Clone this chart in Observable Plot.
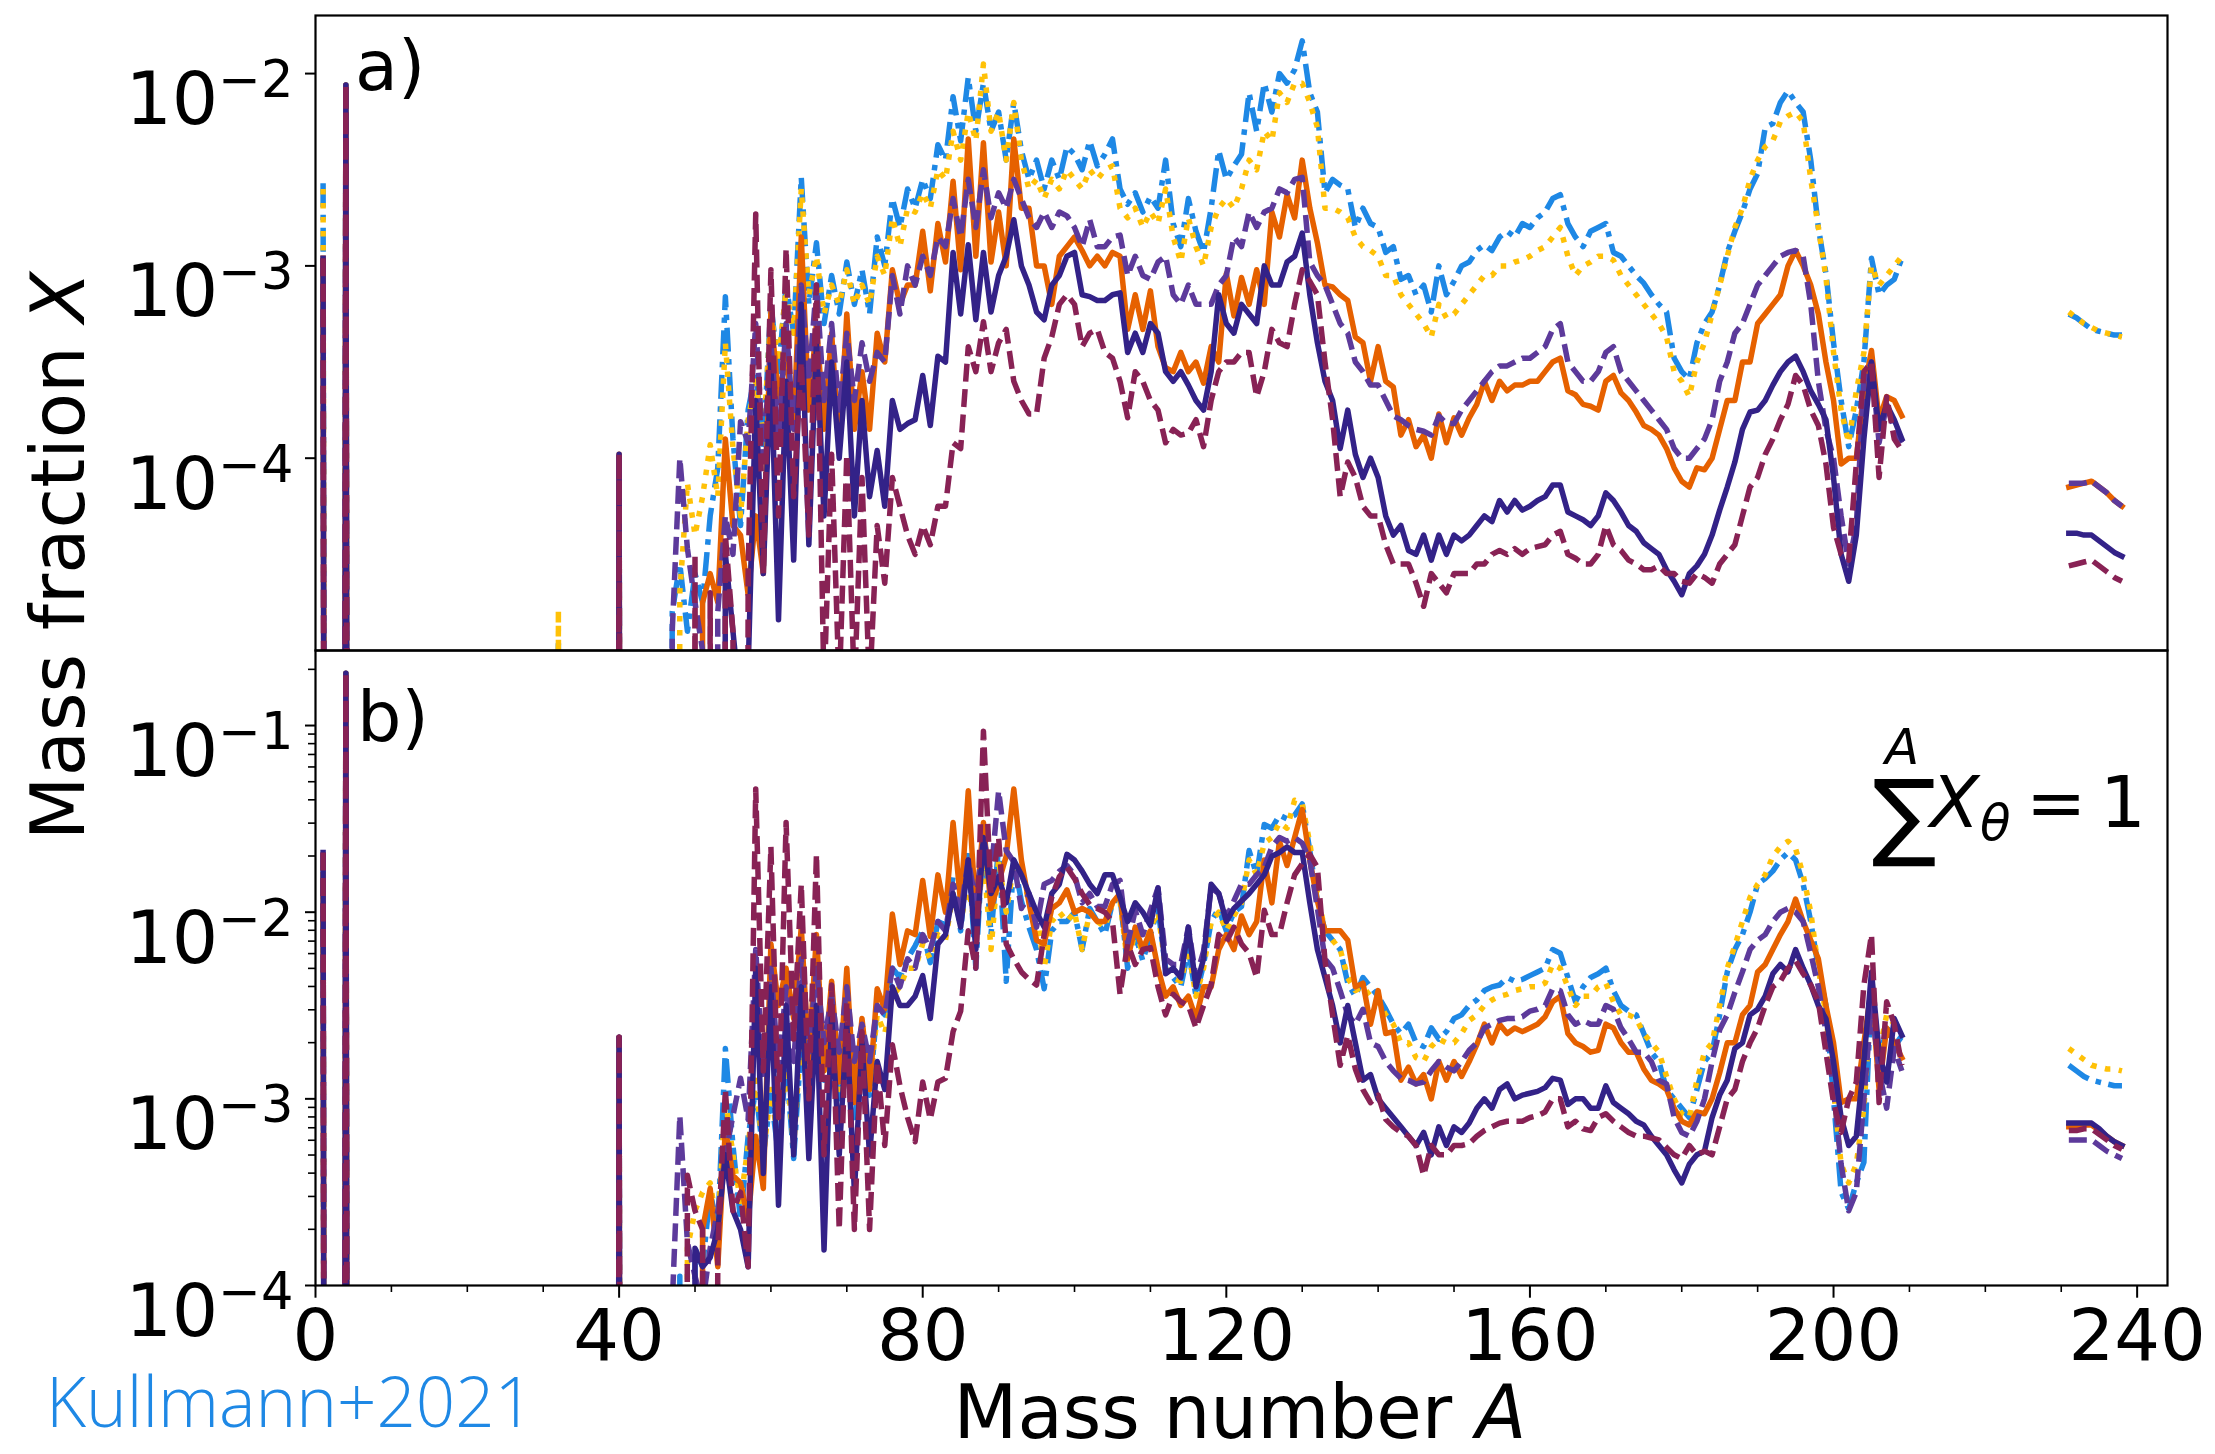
<!DOCTYPE html>
<html>
<head>
<meta charset="utf-8">
<script src="https://cdn.jsdelivr.net/npm/d3@7"></script>
<script src="https://cdn.jsdelivr.net/npm/@observablehq/plot@0.6"></script>
<style>
  html, body { margin: 0; padding: 0; background: #fff; }
  #root { position: relative; width: 2215px; height: 1454px; overflow: hidden; background: #fff; font-family: "DejaVu Sans", sans-serif; }
  #root > svg { position: absolute; left: 0; max-width: none; }
</style>
</head>
<body>
<div id="root"></div>
<script>
// ---------------- DATA (log10 of mass fraction X; null = zero abundance) ----------------
const n = null;
const massEarly = [1, 2, 3, 4, 5, 31, 32, 33, 39, 40, 41, 43];
const mainStart = 44;              // main arrays cover A = 44 ... 209
const massTail = [231, 232, 233, 234, 235, 236, 237, 238];

// ----- panel a) -----
const a_blue_early   = [-2.57, n, n, -2.06, n, n, -4.95, n, n, -3.98, n, n];
const a_gold_early   = [-2.60, n, n, -2.06, n, n, -4.79, n, n, -3.98, n, n];
const a_orange_early = [-2.96, n, n, -2.06, n, n, n, n, n, -3.98, n, n];
const a_purple_early = [-2.96, n, n, -2.06, n, n, n, n, n, -3.98, n, n];
const a_indigo_early = [-2.96, n, n, -2.06, n, n, n, n, n, -3.98, n, n];
const a_maroon_early = [-2.96, n, n, -2.06, n, n, n, n, n, -3.98, n, n];

const a_blue = [
  n, n, n, -4.8, -4.55, -4.9, -4.6, -4.75, -4.3, -4.05,
  -3.16, -3.9, -4.35, -3.75, -3.55, -3.95, -3.2, -3.55, -3.1, -3.35,
  -2.54, -3.2, -2.88, -3.3, -3.05, -3.25, -2.98, -3.2, -3.02, -3.25,
  -2.85, -3.0, -2.65, -2.8, -2.6, -2.7, -2.55, -2.65, -2.37, -2.45,
  -2.12, -2.35, -2.02, -2.3, -2.05, -2.3, -2.2, -2.45, -2.15, -2.4,
  -2.55, -2.45, -2.6, -2.45, -2.55, -2.38, -2.42, -2.5, -2.35, -2.48,
  -2.42, -2.34, -2.6, -2.68, -2.62, -2.72, -2.64, -2.7, -2.45, -2.78,
  -2.9, -2.65, -2.82, -2.93, -2.7, -2.4, -2.55, -2.48, -2.42, -2.1,
  -2.3, -2.05, -2.2, -2.0, -2.05, -1.98, -1.83, -2.1, -2.2, -2.62,
  -2.55, -2.58, -2.6, -2.8, -2.7, -2.78, -2.8, -2.93, -2.9, -3.07,
  -3.05, -3.15, -3.1, -3.24, -3.0, -3.15, -3.08, -3.0, -2.98, -2.92,
  -2.89, -2.92, -2.85, -2.82, -2.85, -2.78, -2.8, -2.75, -2.72, -2.65,
  -2.63, -2.78, -2.85, -2.9, -2.82, -2.8, -2.78, -2.93, -2.95, -3.0,
  -3.05, -3.09, -3.15, -3.2, -3.24, -3.48, -3.55, -3.59, -3.4, -3.3,
  -3.24, -3.1, -2.93, -2.82, -2.72, -2.6, -2.52, -2.28, -2.26, -2.15,
  -2.09, -2.15, -2.2, -2.45, -2.8, -3.04, -3.4, -3.7, -3.94, -3.75,
  -3.5, -2.96, -3.15, -3.1, -3.07, -2.96
];
const a_gold = [
  n, n, n, n, -4.7, -4.13, -4.4, -4.2, -3.93, -4.2,
  -3.4, -3.95, -4.3, -3.8, -3.6, -3.9, -3.25, -3.5, -3.12, -3.35,
  -2.6, -3.15, -2.95, -3.25, -3.1, -3.2, -3.02, -3.2, -3.1, -3.2,
  -2.95, -3.05, -2.75, -2.9, -2.7, -2.72, -2.62, -2.7, -2.5, -2.55,
  -2.3, -2.45, -2.2, -2.35, -1.95, -2.3, -2.2, -2.45, -2.15, -2.45,
  -2.6, -2.55, -2.65, -2.55, -2.6, -2.5, -2.55, -2.6, -2.5, -2.55,
  -2.5, -2.48, -2.7, -2.75, -2.7, -2.8, -2.72, -2.78, -2.6, -2.85,
  -2.98, -2.75, -2.9, -3.0, -2.8, -2.7, -2.65, -2.7, -2.6, -2.45,
  -2.5, -2.3, -2.35, -2.1, -2.15, -2.05, -2.05, -2.15, -2.28, -2.7,
  -2.7, -2.72, -2.75, -2.85, -2.9, -2.92, -2.95, -3.05, -3.05, -3.15,
  -3.2, -3.25, -3.3, -3.37, -3.2, -3.27, -3.25, -3.2, -3.15, -3.1,
  -3.05, -3.05, -3.0, -3.0, -2.98, -2.97, -2.95, -2.92, -2.9, -2.85,
  -2.8, -2.95, -3.05, -3.0, -2.98, -2.95, -2.95, -2.97, -3.05, -3.1,
  -3.15, -3.2, -3.25, -3.3, -3.37, -3.55, -3.6, -3.68, -3.5, -3.4,
  -3.25, -3.1, -2.95, -2.8, -2.7, -2.55, -2.45, -2.38, -2.35, -2.25,
  -2.22, -2.2, -2.25, -2.55, -2.8, -3.06, -3.45, -3.75, -3.92, -3.65,
  -3.45, -3.0, -3.1, -3.05, -3.0, -2.95
];
const a_orange = [
  n, n, n, n, n, n, n, -4.75, -4.6, -4.75,
  -3.9, -4.35, -4.4, -4.71, -4.3, -4.6, -3.24, -3.7, -3.45, -3.85,
  -2.85, -3.75, -3.3, -3.85, -3.35, -3.95, -3.25, -3.85, -3.55, -3.85,
  -3.35, -3.5, -3.02, -3.2, -3.1, -3.1, -2.82, -3.13, -2.78, -2.98,
  -2.56, -3.02, -2.34, -2.95, -2.36, -2.98, -2.72, -3.0, -2.34, -2.7,
  -2.7, -3.0, -3.0, -3.2, -2.95, -2.9, -2.85, -2.92, -3.0, -2.95,
  -3.0, -2.93, -2.95, -3.33, -3.15, -3.33, -3.13, -3.42, -3.53, -3.55,
  -3.45, -3.55, -3.5, -3.61, -3.42, -3.5, -3.04, -3.26, -3.06, -3.2,
  -3.02, -3.2, -2.72, -2.85, -2.63, -2.75, -2.45, -2.7, -2.88, -3.1,
  -3.11, -3.15, -3.18, -3.37, -3.4, -3.6, -3.42, -3.6, -3.63, -3.88,
  -3.8, -3.94, -3.88, -4.0, -3.77, -3.92, -3.79, -3.88, -3.79, -3.72,
  -3.6, -3.7, -3.6, -3.65, -3.62, -3.62, -3.6, -3.6, -3.55, -3.5,
  -3.48, -3.65, -3.67, -3.72, -3.73, -3.75, -3.6, -3.57, -3.66, -3.7,
  -3.76, -3.83, -3.85, -3.88, -3.95, -4.05, -4.12, -4.15, -4.05, -4.06,
  -4.0, -3.85, -3.7, -3.7, -3.5, -3.5, -3.3, -3.25, -3.2, -3.15,
  -3.0, -2.92, -3.0, -3.1, -3.25, -3.5, -3.7, -4.03, -4.0, -4.0,
  -3.65, -3.44, -3.8, -3.68, -3.7, -3.78
];
const a_purple = [
  n, n, n, -4.9, -4.0, -4.47, -4.75, -5.0, n, -4.8,
  -4.3, -4.5, -3.81, -3.92, -3.3, -4.0, -3.4, -3.9, -3.3, -3.85,
  -3.1, -3.6, -3.1, -3.7, -3.3, -3.75, -3.35, -3.7, -3.4, -3.6,
  -3.45, -3.5, -3.05, -3.25, -3.0, -3.1, -2.95, -3.05, -2.85, -2.9,
  -2.65, -2.85, -2.55, -2.8, -2.5, -2.75, -2.62, -2.7, -2.55, -2.65,
  -2.75, -2.8, -2.72, -2.8, -2.72, -2.74, -2.8, -2.9, -2.76, -2.9,
  -2.9, -2.85, -2.84, -3.05, -2.95, -3.05, -3.07, -2.98, -2.95, -3.15,
  -3.2, -3.1, -3.2, -3.2, -3.2, -3.1, -3.05, -2.85, -2.9, -2.72,
  -2.8, -2.72, -2.7, -2.6, -2.62, -2.55, -2.54, -2.98, -3.05, -3.1,
  -3.2, -3.3, -3.35, -3.5, -3.55, -3.62, -3.62, -3.7, -3.78, -3.8,
  -3.83, -3.85, -3.86, -3.88, -3.78, -3.82, -3.82, -3.75, -3.7, -3.65,
  -3.6, -3.55, -3.52, -3.52, -3.5, -3.48, -3.48, -3.45, -3.42, -3.33,
  -3.3, -3.5, -3.55, -3.6, -3.6, -3.55, -3.45, -3.42, -3.55, -3.6,
  -3.65, -3.7, -3.75, -3.8, -3.85, -3.95, -4.0, -4.0, -3.95, -3.9,
  -3.8, -3.6, -3.5, -3.35, -3.3, -3.2, -3.1, -3.05, -3.0, -2.95,
  -2.93, -2.92, -2.95, -3.2, -3.6, -3.85, -4.0, -4.3, -4.55, -4.35,
  -3.6, -3.5, -3.92, -3.72, -3.85, -3.92
];
const a_indigo = [
  n, n, n, n, n, n, n, n, -5.2, n,
  -4.5, -4.9, -5.3, -5.1, -3.7, -4.6, -3.5, -4.84, -3.6, -4.53,
  -3.2, -4.45, -3.4, -4.3, -3.5, -4.0, -3.5, -4.3, -3.7, -4.2,
  -3.96, -4.25, -3.7, -3.85, -3.82, -3.8, -3.57, -3.83, -3.47, -3.5,
  -2.93, -3.25, -2.89, -3.28, -2.93, -3.24, -3.05, -2.95, -2.76, -3.0,
  -3.1, -3.24, -3.28, -3.1, -3.05, -2.95, -2.93, -3.15, -3.16, -3.18,
  -3.18, -3.15, -3.14, -3.45, -3.35, -3.45, -3.3, -3.35, -3.55, -3.6,
  -3.55, -3.62, -3.7, -3.75, -3.55, -3.15, -3.3, -3.35, -3.2, -3.25,
  -3.3, -3.0, -3.1, -3.1, -2.98, -2.95, -2.83, -3.15, -3.4, -3.6,
  -3.7, -3.95, -3.75, -3.98, -4.1, -4.0, -4.1, -4.3, -4.4, -4.35,
  -4.48, -4.5, -4.4, -4.53, -4.4, -4.5, -4.4, -4.43, -4.4, -4.35,
  -4.3, -4.33, -4.22, -4.28, -4.22, -4.27, -4.25, -4.22, -4.2, -4.14,
  -4.14, -4.28, -4.3, -4.32, -4.35, -4.3, -4.18, -4.22, -4.28, -4.35,
  -4.38, -4.44, -4.47, -4.5, -4.58, -4.64, -4.71, -4.6, -4.56, -4.5,
  -4.4, -4.27, -4.15, -4.02, -3.85, -3.76, -3.75, -3.7, -3.62, -3.55,
  -3.5, -3.47, -3.55, -3.65, -3.72, -3.8, -4.1, -4.5, -4.64, -4.4,
  -3.9, -3.5, -3.85, -3.72, -3.8, -3.9
];
const a_maroon = [
  n, n, n, n, n, n, -4.5, n, -4.7, n,
  -4.4, -4.9, n, -4.6, -2.73, -4.6, -3.02, -4.3, -2.91, -4.2,
  -3.5, -4.4, -3.1, -5.2, -3.98, -5.2, -3.98, -5.2, -4.1, -5.2,
  -4.35, -4.65, -4.1, -4.25, -4.4, -4.5, -4.35, -4.45, -4.25, -4.25,
  -3.92, -3.95, -3.42, -3.55, -3.29, -3.55, -3.4, -3.33, -3.6, -3.7,
  -3.77, -3.77, -3.48, -3.37, -3.2, -3.15, -3.2, -3.42, -3.35, -3.33,
  -3.45, -3.48, -3.6, -3.79, -3.55, -3.6, -3.7, -3.75, -3.92, -3.85,
  -3.88, -3.87, -3.8, -3.94, -3.7, -3.55, -3.5, -3.5, -3.45, -3.45,
  -3.68, -3.55, -3.33, -3.4, -3.42, -3.2, -3.02, -3.08, -3.15, -3.5,
  -3.8, -4.2, -4.02, -4.1, -4.25, -4.3, -4.3, -4.45, -4.55, -4.55,
  -4.55, -4.65, -4.77, -4.6, -4.65, -4.7, -4.6, -4.6, -4.6, -4.55,
  -4.55, -4.5, -4.48, -4.5, -4.47, -4.5, -4.47, -4.46, -4.45, -4.4,
  -4.38, -4.5, -4.52, -4.55, -4.55, -4.5, -4.35, -4.45, -4.48, -4.53,
  -4.55, -4.58, -4.58, -4.56, -4.6, -4.6, -4.64, -4.65, -4.6, -4.62,
  -4.65, -4.55, -4.5, -4.45, -4.3, -4.15, -4.1, -3.98, -3.9, -3.8,
  -3.72, -3.57, -3.62, -3.75, -3.83, -4.03, -4.36, -4.5, -4.53, -4.03,
  -3.55, -3.5, -4.1, -3.68, -3.9, -3.96
];
const a_blue_tail   = [-3.25, -3.27, -3.3, -3.33, -3.34, -3.35, -3.36, -3.36];
const a_gold_tail   = [-3.24, -3.27, -3.3, -3.32, -3.34, -3.35, -3.36, -3.37];
const a_orange_tail = [-4.15, -4.14, -4.13, -4.12, -4.15, -4.18, -4.22, -4.25];
const a_purple_tail = [-4.13, -4.13, -4.13, -4.12, -4.15, -4.18, -4.22, -4.25];
const a_indigo_tail = [-4.39, -4.39, -4.4, -4.4, -4.43, -4.46, -4.49, -4.51];
const a_maroon_tail = [-4.56, -4.55, -4.54, -4.53, -4.56, -4.59, -4.62, -4.64];

// ----- panel b) (normalised so that the sum of X is 1) -----
const b_blue_early   = [-1.78, n, n, -0.72, n, n, n, n, n, -2.67, n, n];
const b_gold_early   = [-1.75, n, n, -0.72, n, n, n, n, n, -2.67, n, n];
const b_orange_early = [-1.80, n, n, -0.72, n, n, n, n, n, -2.67, n, n];
const b_purple_early = [-1.68, n, n, -0.72, n, n, n, n, n, -2.67, n, n];
const b_indigo_early = [-1.68, n, n, -0.72, n, n, n, n, n, -2.67, n, n];
const b_maroon_early = [-1.68, n, n, -0.72, n, n, n, n, n, -2.67, n, n];

const b_blue = [
  n, n, n, n, -3.95, n, -3.8, -3.9, -3.5, -3.7,
  -2.73, -3.25, -3.65, -3.2, -2.95, -3.3, -2.98, -3.3, -2.8, -3.32,
  -2.7, -3.0, -2.5, -2.9, -2.75, -3.0, -2.85, -3.1, -2.85, -2.98,
  -2.5, -2.55, -2.3, -2.35, -2.25, -2.18, -2.1, -2.27, -2.05, -2.07,
  -1.81, -2.1, -1.67, -2.3, -1.56, -2.12, -1.65, -2.37, -1.72, -1.94,
  -2.08, -2.2, -2.41, -2.1, -2.05, -2.05, -2.0, -2.2, -1.98, -2.05,
  -2.12, -1.95, -1.92, -2.3, -2.12, -2.26, -2.12, -1.98, -2.3, -2.35,
  -2.4, -2.2, -2.45, -2.28, -2.05, -1.98, -2.1, -2.0, -1.97, -1.67,
  -1.8, -1.53, -1.55, -1.48, -1.5, -1.48, -1.42, -1.67, -1.94, -2.1,
  -2.15, -2.2, -2.38, -2.45, -2.35, -2.4, -2.45, -2.52, -2.6, -2.65,
  -2.6, -2.7, -2.72, -2.62, -2.68, -2.64, -2.57, -2.55, -2.5, -2.47,
  -2.42, -2.4, -2.39, -2.35, -2.37, -2.36, -2.34, -2.32, -2.3, -2.2,
  -2.22, -2.35, -2.48, -2.4, -2.35, -2.33, -2.3, -2.42, -2.5, -2.53,
  -2.55, -2.65, -2.75, -2.8, -2.95, -3.0, -3.05, -3.1, -2.95, -2.8,
  -2.75, -2.55, -2.32, -2.2, -2.12, -2.0, -1.85, -1.82, -1.78, -1.72,
  -1.68, -1.72, -1.85, -2.05, -2.3, -2.5, -3.0, -3.5, -3.59, -3.45,
  -3.34, -2.39, -2.8, -2.62, -2.66, -2.69
];
const b_gold = [
  n, n, n, n, n, -3.8, -3.6, -3.5, -3.45, -3.7,
  -3.0, -3.3, -3.55, -3.25, -2.9, -3.3, -2.95, -3.25, -2.8, -3.25,
  -2.65, -3.0, -2.55, -2.85, -2.75, -2.95, -2.8, -3.05, -2.8, -2.95,
  -2.55, -2.65, -2.45, -2.4, -2.3, -2.3, -2.17, -2.25, -2.12, -2.15,
  -1.9, -2.05, -1.85, -2.12, -1.7, -2.2, -1.72, -2.0, -1.75, -1.76,
  -1.95, -2.0, -2.3, -2.05, -2.0, -2.05, -2.0, -2.2, -2.0, -2.05,
  -2.08, -1.95, -1.94, -2.28, -2.1, -2.22, -2.08, -2.0, -2.3, -2.35,
  -2.37, -2.2, -2.45, -2.3, -2.05, -2.0, -2.1, -2.02, -1.95, -1.72,
  -1.8, -1.63, -1.6, -1.52, -1.55, -1.4, -1.42, -1.63, -1.9, -2.1,
  -2.15, -2.2, -2.35, -2.42, -2.4, -2.45, -2.48, -2.55, -2.6, -2.7,
  -2.7, -2.78, -2.8, -2.72, -2.68, -2.7, -2.7, -2.65, -2.58, -2.55,
  -2.5, -2.47, -2.45, -2.44, -2.42, -2.41, -2.4, -2.4, -2.38, -2.28,
  -2.3, -2.4, -2.5, -2.45, -2.45, -2.4, -2.38, -2.48, -2.55, -2.55,
  -2.57, -2.65, -2.7, -2.75, -2.88, -3.0, -3.08, -3.1, -2.9, -2.75,
  -2.7, -2.5, -2.3, -2.18, -2.05, -1.92, -1.85, -1.8, -1.7, -1.65,
  -1.62, -1.66, -1.8, -2.0, -2.3, -2.55, -2.95, -3.35, -3.45, -3.35,
  -3.05, -2.45, -2.75, -2.55, -2.6, -2.62
];
const b_orange = [
  n, n, n, n, n, n, n, -3.7, -3.48, -3.9,
  -3.16, -3.41, -3.45, -3.65, -3.2, -3.48, -2.17, -2.5, -2.3, -2.57,
  -2.08, -2.8, -2.12, -2.85, -2.37, -2.91, -2.3, -3.02, -2.57, -2.95,
  -2.41, -2.52, -2.01, -2.28, -2.1, -2.12, -1.83, -2.13, -1.8, -2.0,
  -1.52, -1.95, -1.35, -2.0, -1.52, -1.98, -1.84, -1.7, -1.34, -1.72,
  -1.95, -2.15, -2.17, -1.98, -1.95, -1.88, -2.0, -1.98, -2.0, -2.05,
  -2.05, -1.95, -1.9, -2.25, -2.08, -2.2, -2.1, -2.3, -2.45, -2.4,
  -2.5, -2.45, -2.57, -2.4, -2.4, -2.2, -2.12, -2.2, -2.02, -2.12,
  -2.05, -1.72, -1.95, -1.62, -1.75, -1.6, -1.45, -1.72, -1.94, -2.1,
  -2.1, -2.1, -2.15, -2.4, -2.38, -2.6, -2.42, -2.65, -2.64, -2.9,
  -2.83, -2.92, -2.87, -3.0, -2.8, -2.9, -2.8, -2.88, -2.8, -2.71,
  -2.6, -2.7, -2.6, -2.65, -2.62, -2.64, -2.62, -2.6, -2.56, -2.48,
  -2.45, -2.65, -2.7, -2.72, -2.75, -2.74, -2.6, -2.62, -2.7, -2.75,
  -2.75, -2.84, -2.9, -2.92, -2.95, -3.05, -3.12, -3.14, -3.07, -3.08,
  -3.0, -2.86, -2.7, -2.7, -2.55, -2.5, -2.32, -2.28, -2.2, -2.12,
  -2.05, -1.93, -2.05, -2.15, -2.25, -2.5, -2.7, -3.02, -3.0, -3.0,
  -2.7, -2.4, -2.95, -2.62, -2.7, -2.78
];
const b_purple = [
  n, n, n, -4.1, -3.09, -3.77, -3.95, -4.1, -3.8, -3.6,
  -3.3, -3.09, -2.89, -3.11, -2.2, -2.9, -2.3, -2.85, -2.4, -2.8,
  -2.25, -2.75, -2.3, -2.7, -2.45, -2.75, -2.4, -2.8, -2.6, -2.8,
  -2.5, -2.55, -2.3, -2.4, -2.25, -2.3, -2.12, -2.2, -2.05, -2.1,
  -1.85, -2.0, -1.72, -1.95, -1.6, -1.8, -1.35, -1.67, -1.73, -1.98,
  -1.9, -2.08, -1.85, -1.83, -1.78, -1.75, -1.8, -1.95, -1.9, -1.97,
  -1.97, -1.85, -1.83, -2.17, -1.99, -2.12, -1.99, -1.87, -2.25, -2.28,
  -2.28, -2.08, -2.35, -2.21, -1.87, -1.9, -2.03, -1.94, -1.85, -1.85,
  -1.8, -1.76, -1.65, -1.6, -1.62, -1.6, -1.63, -1.72, -1.98, -2.25,
  -2.3, -2.42, -2.55, -2.6, -2.52, -2.7, -2.72, -2.8, -2.85, -2.89,
  -2.9, -2.92, -2.91, -2.85, -2.8, -2.83, -2.85, -2.8, -2.74, -2.7,
  -2.62, -2.6, -2.58, -2.57, -2.57, -2.56, -2.53, -2.52, -2.5, -2.41,
  -2.42, -2.55, -2.6, -2.58, -2.6, -2.6, -2.5, -2.52, -2.62, -2.68,
  -2.75, -2.75, -2.8, -2.9, -2.92, -3.1, -3.18, -3.2, -3.12, -3.0,
  -2.8, -2.63, -2.55, -2.43, -2.32, -2.2, -2.15, -2.12, -2.05, -2.0,
  -1.98, -2.0, -2.05, -2.22, -2.4, -2.64, -2.95, -3.35, -3.6, -3.5,
  -3.0, -2.5, -2.85, -3.05, -2.73, -2.85
];
const b_indigo = [
  n, n, n, n, n, n, -3.8, -3.9, -3.85, -3.7,
  -3.3, -3.6, -3.7, -3.9, -2.3, -3.4, -2.4, -3.57, -2.5, -3.3,
  -2.4, -3.32, -2.5, -3.81, -2.55, -3.3, -2.6, -3.5, -2.7, -3.3,
  -2.8, -2.95, -2.4, -2.5, -2.5, -2.45, -2.34, -2.57, -2.17, -2.12,
  -1.9, -2.08, -1.72, -2.2, -1.6, -1.9, -1.81, -1.95, -1.72, -1.8,
  -1.9, -2.0, -2.08, -1.9, -1.85, -1.69, -1.72, -1.78, -1.85, -1.9,
  -1.8, -1.8, -1.92, -2.05, -1.95, -2.0, -2.07, -1.87, -2.33, -2.3,
  -2.35, -2.08, -2.4, -2.25, -1.85, -1.9, -2.05, -1.98, -1.94, -1.9,
  -1.85, -1.8, -1.7, -1.68, -1.65, -1.68, -1.68, -1.95, -2.2, -2.35,
  -2.5, -2.7, -2.5, -2.7, -2.9, -2.87, -3.0, -3.05, -3.1, -3.15,
  -3.2, -3.25, -3.18, -3.3, -3.15, -3.25, -3.15, -3.18, -3.13, -3.05,
  -3.0, -3.05, -2.95, -2.92, -3.0, -2.98, -2.97, -2.96, -2.94, -2.89,
  -2.9, -3.03, -3.0, -3.0, -3.05, -3.05, -2.93, -3.02, -3.05, -3.08,
  -3.12, -3.14, -3.2, -3.25, -3.3, -3.38, -3.45, -3.35, -3.3, -3.28,
  -3.1, -2.98, -2.9, -2.73, -2.7, -2.55, -2.52, -2.45, -2.33, -2.28,
  -2.32, -2.2, -2.3, -2.39, -2.5, -2.57, -2.8, -3.1, -3.25, -3.2,
  -2.8, -2.32, -2.75, -2.91, -2.57, -2.66
];
const b_maroon = [
  n, n, n, n, n, -3.41, -3.6, -3.7, n, -3.8,
  -2.95, -3.6, -3.5, -3.9, -1.34, -2.85, -1.65, -3.1, -1.52, -2.68,
  -1.85, -3.0, -1.69, -3.3, -2.39, -3.7, -2.48, -3.7, -2.64, -3.7,
  -2.8, -3.25, -2.71, -2.93, -3.1, -3.23, -2.91, -3.11, -2.91, -2.89,
  -2.64, -2.53, -2.1, -2.3, -1.03, -1.9, -1.6, -2.17, -2.25, -2.32,
  -2.36, -2.39, -2.12, -1.92, -1.81, -1.76, -1.82, -1.9, -1.96, -1.98,
  -2.0, -2.05, -2.44, -2.17, -2.28, -2.2, -2.19, -2.4, -2.55, -2.44,
  -2.48, -2.5, -2.62, -2.5, -2.39, -2.12, -2.16, -2.08, -2.17, -2.22,
  -2.35, -1.99, -2.12, -2.12, -1.95, -1.8, -1.74, -1.69, -1.76, -2.26,
  -2.55, -2.82, -2.66, -2.84, -2.95, -3.02, -2.98, -3.11, -3.15, -3.18,
  -3.2, -3.25, -3.41, -3.25, -3.3, -3.3, -3.25, -3.25, -3.24, -3.2,
  -3.17, -3.15, -3.13, -3.12, -3.12, -3.12, -3.1, -3.09, -3.07, -3.0,
  -3.0, -3.15, -3.12, -3.16, -3.17, -3.1, -3.08, -3.12, -3.15, -3.18,
  -3.2, -3.2, -3.21, -3.22, -3.26, -3.3, -3.32, -3.25, -3.3, -3.28,
  -3.3, -3.15, -3.0, -2.95, -2.8, -2.7, -2.62, -2.5, -2.4, -2.37,
  -2.3, -2.26, -2.33, -2.39, -2.48, -2.75, -3.02, -3.18, -3.0, -2.91,
  -2.39, -2.12, -3.02, -2.48, -2.6, -2.82
];
const b_blue_tail   = [-2.82, -2.85, -2.88, -2.9, -2.91, -2.92, -2.93, -2.93];
const b_gold_tail   = [-2.73, -2.76, -2.79, -2.82, -2.83, -2.84, -2.84, -2.85];
const b_orange_tail = [-3.15, -3.15, -3.14, -3.14, -3.17, -3.2, -3.23, -3.25];
const b_purple_tail = [-3.22, -3.22, -3.22, -3.22, -3.25, -3.28, -3.3, -3.32];
const b_indigo_tail = [-3.13, -3.13, -3.13, -3.13, -3.16, -3.2, -3.23, -3.25];
const b_maroon_tail = [-3.17, -3.17, -3.16, -3.16, -3.19, -3.22, -3.25, -3.27];

// axis ticks
const xMajorTicks = [0, 40, 80, 120, 160, 200, 240];
const xMinorTicks = [10, 20, 30, 50, 60, 70, 90, 100, 110, 130, 140, 150, 170, 180, 190, 210, 220, 230];
const yTicksA = [1e-2, 1e-3, 1e-4];
const yTicksB = [1e-1, 1e-2, 1e-3, 1e-4];

// ---------------- STYLES ----------------
const LW = 5.5;
const styles = {
  blue:   {stroke: "#1E88E5", dash: "24,7.5,5.5,7.5"},
  gold:   {stroke: "#FFC107", dash: "5.5,8.5"},
  orange: {stroke: "#E66100", dash: null},
  purple: {stroke: "#5D3A9B", dash: "18,7.5"},
  indigo: {stroke: "#332288", dash: null},
  maroon: {stroke: "#882255", dash: "18,7.5"}
};
const order = ["blue", "gold", "orange", "purple", "indigo", "maroon"];

const panelA = {
  blue:   [a_blue_early, a_blue, a_blue_tail],
  gold:   [a_gold_early, a_gold, a_gold_tail],
  orange: [a_orange_early, a_orange, a_orange_tail],
  purple: [a_purple_early, a_purple, a_purple_tail],
  indigo: [a_indigo_early, a_indigo, a_indigo_tail],
  maroon: [a_maroon_early, a_maroon, a_maroon_tail]
};
const panelB = {
  blue:   [b_blue_early, b_blue, b_blue_tail],
  gold:   [b_gold_early, b_gold, b_gold_tail],
  orange: [b_orange_early, b_orange, b_orange_tail],
  purple: [b_purple_early, b_purple, b_purple_tail],
  indigo: [b_indigo_early, b_indigo, b_indigo_tail],
  maroon: [b_maroon_early, b_maroon, b_maroon_tail]
};

function points([early, main, tail]) {
  const pts = [];
  early.forEach((v, i) => pts.push({A: massEarly[i], v, seg: 0}));
  main.forEach((v, i) => pts.push({A: mainStart + i, v, seg: 0}));
  tail.forEach((v, i) => pts.push({A: massTail[i], v, seg: 1}));
  return pts;
}
const toX = d => d.v === null ? 1e-30 : Math.pow(10, d.v);

function lineMarks(panel) {
  return order.map(k => Plot.line(points(panel[k]), {
    x: "A", y: toX, z: "seg",
    stroke: styles[k].stroke, strokeWidth: LW,
    strokeDasharray: styles[k].dash || undefined,
    strokeLinejoin: "round",
    strokeLinecap: styles[k].dash ? "butt" : "square",
    clip: true
  }));
}

const ns = "http://www.w3.org/2000/svg";
function supTicks(svg) {
  svg.querySelectorAll('[aria-label="y-axis tick label"] text').forEach(t => {
    const m = (t.textContent || "").match(/^10\^(-?\d+)$/);
    if (!m) return;
    t.textContent = "";
    const a = document.createElementNS(ns, "tspan"); a.textContent = "10";
    const b = document.createElementNS(ns, "tspan"); b.textContent = m[1].replace("-", "\u2212");
    b.setAttribute("dy", "-27"); b.setAttribute("font-size", "51");
    t.append(a, b);
    t.setAttribute("dy", "0.37em");
  });
}
const fmtPow = d => "10^" + Math.round(Math.log10(d));
const common = {width: 2215, marginLeft: 315, marginRight: 48, style: {fontFamily: "DejaVu Sans", background: "transparent", overflow: "visible", color: "black"}};
const xDomain = [0, 244];

// ---------------- PANEL a ----------------
const plotA = Plot.plot({
  ...common, height: 650, marginTop: 15, marginBottom: 0,
  x: {domain: xDomain, axis: null},
  y: {type: "log", domain: [1e-5, Math.pow(10, -1.698)]},
  marks: [
    ...lineMarks(panelA),
    Plot.axisY(yTicksA, {tickSize: 10, tickPadding: 12, fontSize: 73, tickFormat: fmtPow, strokeWidth: 2, label: null}),
    Plot.frame({stroke: "black", strokeWidth: 2.2})
  ]
});
plotA.style.top = "0px";
supTicks(plotA);

// ---------------- PANEL b ----------------
const yMinorB = [];
for (let e = -4; e <= -1; e++) for (let k = 2; k <= 9; k++) { const v = k * Math.pow(10, e); if (v < 0.25) yMinorB.push(v); }
const plotB = Plot.plot({
  ...common, height: 814, marginTop: 10, marginBottom: 169,
  x: {domain: xDomain},
  y: {type: "log", domain: [1e-4, Math.pow(10, -0.598)]},
  marks: [
    ...lineMarks(panelB),
    Plot.axisY(yMinorB, {tickSize: 7, tickFormat: () => "", strokeWidth: 1.6, label: null}),
    Plot.axisY(yTicksB, {tickSize: 10, tickPadding: 12, fontSize: 73, tickFormat: fmtPow, strokeWidth: 2, label: null}),
    Plot.axisX(xMinorTicks, {tickSize: 7, tickFormat: () => "", strokeWidth: 1.6, label: null}),
    Plot.axisX(xMajorTicks, {tickSize: 12.7, tickPadding: 11, fontSize: 72, strokeWidth: 2, label: null}),
    Plot.frame({stroke: "black", strokeWidth: 2.2})
  ]
});
plotB.style.top = "640px";
supTicks(plotB);

const root = document.getElementById("root");
root.append(plotA, plotB);

// ---------------- TEXT OVERLAY ----------------
const over = document.createElementNS(ns, "svg");
over.setAttribute("width", 2215); over.setAttribute("height", 1454);
over.style.top = "0px"; over.style.pointerEvents = "none";
over.setAttribute("font-family", "DejaVu Sans");
function txt(x, y, parts, opts = {}) {
  const t = document.createElementNS(ns, "text");
  t.setAttribute("x", x); t.setAttribute("y", y);
  for (const [k, v] of Object.entries(opts)) t.setAttribute(k, v);
  for (const p of parts) {
    const s = document.createElementNS(ns, "tspan");
    if (typeof p === "string") s.textContent = p;
    else { s.textContent = p.t; if (p.italic) s.setAttribute("font-style", "italic"); if (p.size) s.setAttribute("font-size", p.size); }
    t.append(s);
  }
  over.append(t);
  return t;
}
txt(355, 90, ["a)"], {"font-size": 70});
txt(357, 741, ["b)"], {"font-size": 70});
txt(1240, 1438, ["Mass number ", {t: "A", italic: true}], {"font-size": 74, "text-anchor": "middle"});
txt(0, 0, ["Mass fraction ", {t: "X", italic: true}], {"font-size": 74, "text-anchor": "middle", transform: "translate(84,556) rotate(-90)"});
// sum annotation
txt(1872, 848, ["\u2211"], {"font-size": 96});
txt(1902, 764, [{t: "A", italic: true}], {"font-size": 50, "text-anchor": "middle"});
txt(1930, 827, [{t: "X", italic: true}], {"font-size": 72});
txt(1980, 840, [{t: "\u03B8", italic: true}], {"font-size": 50});
txt(2026, 827, ["="], {"font-size": 72});
txt(2100, 827, ["1"], {"font-size": 72});
// source credit
txt(46, 1427, ["Kullmann+2021"], {"font-size": 70, "font-family": "Open Sans", "font-weight": 300, fill: "#1E88E5", textLength: 488, lengthAdjust: "spacingAndGlyphs"});
root.append(over);
</script>
</body>
</html>
